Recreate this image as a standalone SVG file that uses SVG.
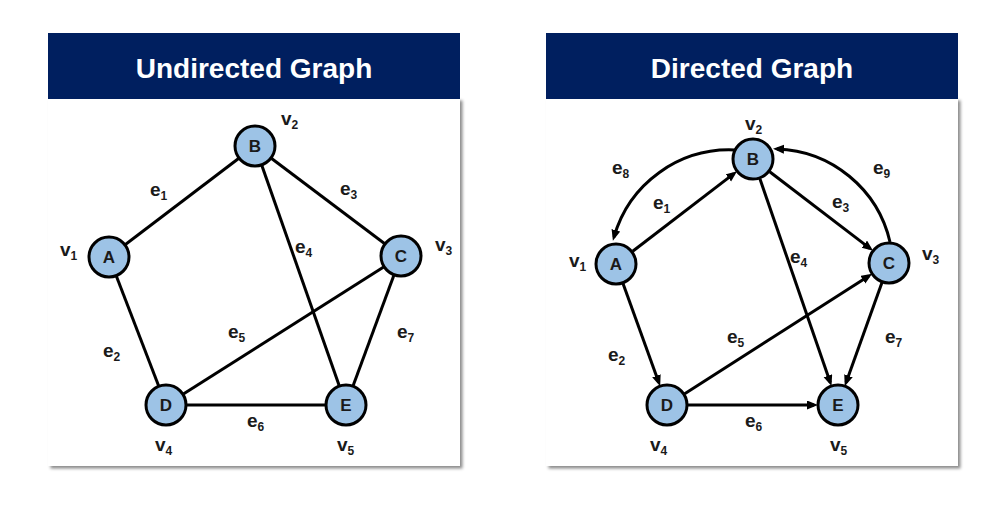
<svg xmlns="http://www.w3.org/2000/svg" width="992" height="505" viewBox="0 0 992 505">
<style>
.hdr{fill:#001F5F}
.body{fill:#ffffff}
.htxt{font-family:"Liberation Sans",Arial,sans-serif;font-weight:bold;font-size:28px;fill:#ffffff;text-anchor:middle}
.node circle{fill:#9DC3E6;stroke:#000;stroke-width:3}
.node text{font-family:"Liberation Sans",Arial,sans-serif;font-weight:bold;font-size:17px;fill:#1a1a1a;text-anchor:middle}
.lbl{font-family:"Liberation Sans",Arial,sans-serif;font-weight:bold;font-size:19px;fill:#1a1a1a}
.lbl tspan{font-size:12px}
.edge{stroke:#000;stroke-width:3;fill:none}
.arr{stroke:#000;stroke-width:3;fill:none;marker-end:url(#ah)}
</style>
<defs>
<marker id="ah" markerUnits="userSpaceOnUse" markerWidth="12" markerHeight="10" refX="7" refY="4.5" orient="auto">
<path d="M0,0 L11,4.5 L0,9 z" fill="#000"/>
</marker>
<filter id="sh" x="-5%" y="-5%" width="112%" height="112%">
<feDropShadow dx="2.5" dy="2.5" stdDeviation="1.5" flood-color="#000" flood-opacity="0.45"/>
</filter>
</defs>

<!-- Left panel -->
<g id="panel-left">
<rect x="48" y="98" width="412" height="368" class="body" filter="url(#sh)"/>
<rect x="48" y="33" width="412" height="66" class="hdr"/>
<text x="254" y="78" class="htxt">Undirected Graph</text>
</g>

<!-- Right panel -->
<g id="panel-right">
<rect x="546" y="98" width="412" height="368" class="body" filter="url(#sh)"/>
<rect x="546" y="33" width="412" height="66" class="hdr"/>
<text x="752" y="78" class="htxt">Directed Graph</text>
</g>

<!-- Undirected connectors -->
<g id="edges-undirected">
<line class="edge" x1="109" y1="257" x2="255" y2="146"/>
<line class="edge" x1="109" y1="257" x2="166" y2="405"/>
<line class="edge" x1="255" y1="146" x2="401" y2="256"/>
<line class="edge" x1="255" y1="146" x2="346" y2="405"/>
<line class="edge" x1="166" y1="405" x2="401" y2="256"/>
<line class="edge" x1="166" y1="405" x2="346" y2="405"/>
<line class="edge" x1="401" y1="256" x2="346" y2="405"/>
</g>

<g id="u-A" class="node"><circle cx="109" cy="257" r="20"/><text x="109" y="263">A</text></g>
<g id="u-B" class="node"><circle cx="255" cy="146" r="20"/><text x="255" y="152">B</text></g>
<g id="u-C" class="node"><circle cx="401" cy="256" r="20"/><text x="401" y="262">C</text></g>
<g id="u-D" class="node"><circle cx="166" cy="405" r="20"/><text x="166" y="411">D</text></g>
<g id="u-E" class="node"><circle cx="346" cy="405" r="20"/><text x="346" y="411">E</text></g>

<g id="labels-undirected">
<text class="lbl" x="60" y="256">v<tspan dy="4">1</tspan></text>
<text class="lbl" x="281" y="125">v<tspan dy="4">2</tspan></text>
<text class="lbl" x="435" y="251">v<tspan dy="4">3</tspan></text>
<text class="lbl" x="155" y="451">v<tspan dy="4">4</tspan></text>
<text class="lbl" x="337" y="451">v<tspan dy="4">5</tspan></text>
<text class="lbl" x="150" y="196">e<tspan dy="4">1</tspan></text>
<text class="lbl" x="103" y="357">e<tspan dy="4">2</tspan></text>
<text class="lbl" x="340" y="195">e<tspan dy="4">3</tspan></text>
<text class="lbl" x="295" y="253">e<tspan dy="4">4</tspan></text>
<text class="lbl" x="228" y="338">e<tspan dy="4">5</tspan></text>
<text class="lbl" x="247" y="427">e<tspan dy="4">6</tspan></text>
<text class="lbl" x="397" y="338">e<tspan dy="4">7</tspan></text>
</g>

<!-- Directed connectors -->
<g id="edges-directed">
<line class="arr" x1="632.7" y1="251.2" x2="733.9" y2="173.6"/>
<line class="arr" x1="623.1" y1="283.8" x2="658.8" y2="382.4"/>
<line class="arr" x1="769.7" y1="171.7" x2="869.9" y2="248.4"/>
<line class="arr" x1="759.9" y1="178.8" x2="830.2" y2="382.3"/>
<line class="arr" x1="684.7" y1="393.7" x2="868.8" y2="275.9"/>
<line class="arr" x1="688" y1="405" x2="814" y2="405"/>
<line class="arr" x1="881.9" y1="282.8" x2="846.1" y2="382.4"/>
<path class="arr" d="M735,150 A120,120 0 0,0 614,237"/>
<path class="arr" d="M890,242 A120,120 0 0,0 777,149"/>
</g>

<g id="d-A" class="node"><circle cx="616" cy="264" r="20"/><text x="616" y="270">A</text></g>
<g id="d-B" class="node"><circle cx="753" cy="159" r="20"/><text x="753" y="165">B</text></g>
<g id="d-C" class="node"><circle cx="889" cy="263" r="20"/><text x="889" y="269">C</text></g>
<g id="d-D" class="node"><circle cx="667" cy="405" r="20"/><text x="667" y="411">D</text></g>
<g id="d-E" class="node"><circle cx="838" cy="405" r="20"/><text x="838" y="411">E</text></g>

<g id="labels-directed">
<text class="lbl" x="569" y="267">v<tspan dy="4">1</tspan></text>
<text class="lbl" x="745" y="130">v<tspan dy="4">2</tspan></text>
<text class="lbl" x="922" y="260">v<tspan dy="4">3</tspan></text>
<text class="lbl" x="650" y="451">v<tspan dy="4">4</tspan></text>
<text class="lbl" x="830" y="451">v<tspan dy="4">5</tspan></text>
<text class="lbl" x="653" y="209">e<tspan dy="4">1</tspan></text>
<text class="lbl" x="608" y="361">e<tspan dy="4">2</tspan></text>
<text class="lbl" x="832" y="208">e<tspan dy="4">3</tspan></text>
<text class="lbl" x="790" y="263">e<tspan dy="4">4</tspan></text>
<text class="lbl" x="727" y="343">e<tspan dy="4">5</tspan></text>
<text class="lbl" x="745" y="427">e<tspan dy="4">6</tspan></text>
<text class="lbl" x="885" y="343">e<tspan dy="4">7</tspan></text>
<text class="lbl" x="612" y="174">e<tspan dy="4">8</tspan></text>
<text class="lbl" x="873" y="174">e<tspan dy="4">9</tspan></text>
</g>
</svg>
